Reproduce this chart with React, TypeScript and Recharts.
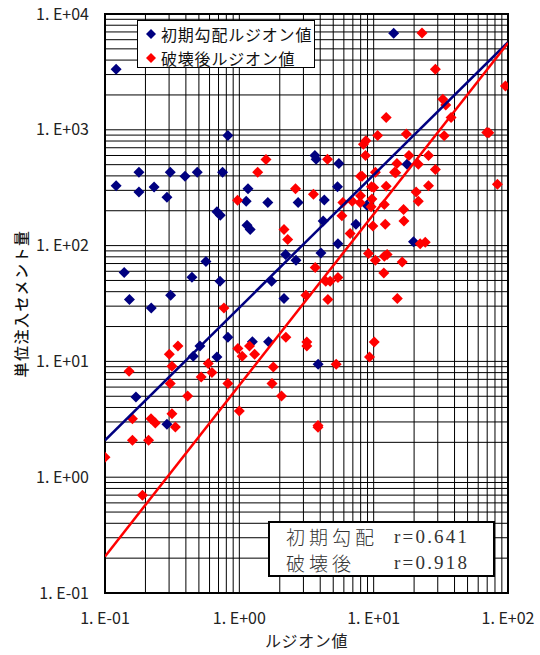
import React from 'react';
import {
  ScatterChart,
  Scatter,
  XAxis,
  YAxis,
  CartesianGrid,
  ReferenceArea,
  Legend,
} from 'recharts';

// ---- series values (ルジオン値, 単位注入セメント量) ----
const initialPoints: [number, number][] = [
  [0.121, 3327], [14.1, 6810], [0.822, 895], [0.179, 431], [0.306, 431], [0.394, 398],
  [0.486, 431], [0.75, 431], [0.121, 328], [0.179, 291], [0.232, 320], [0.289, 262],
  [1.16, 309], [1.125, 242], [1.63, 236], [2.74, 236], [3.65, 601], [3.73, 558],
  [5.51, 512], [17.7, 503], [5.38, 322], [4.29, 248], [8.89, 223], [0.681, 196],
  [0.721, 183], [1.14, 150], [1.205, 138], [2.21, 83.8], [2.64, 74.8], [0.564, 72.9],
  [0.139, 58.5], [0.444, 53.3], [0.718, 49.2], [1.74, 49.2], [0.152, 34.2], [0.308, 37.3],
  [2.15, 34.9], [0.221, 28.9], [0.822, 16.2], [1.25, 14.8], [1.65, 14.8], [0.509, 13.6],
  [0.454, 11.1], [0.681, 10.9], [0.17, 4.92], [4.21, 163], [7.38, 153], [5.42, 104],
  [4.05, 86.5], [19.8, 108], [3.86, 9.44], [0.289, 2.86],
];

const afterPoints: [number, number][] = [
  [22.9, 6850], [1.58, 555], [1.37, 431], [0.97, 247], [2.62, 309], [28.8, 3327],
  [95.7, 2387], [32.7, 1832], [34.4, 1635], [37.7, 1280], [12.4, 1280], [10.7, 895],
  [17.5, 918], [33.5, 887], [69.5, 950], [72, 942], [8.39, 752], [8.75, 803],
  [8.69, 601], [18.3, 601], [25.6, 601], [4.53, 558], [14.9, 512], [21.5, 503],
  [14.3, 431], [14.6, 425], [28.8, 455], [10.3, 431], [7.98, 398], [8.2, 398],
  [9.64, 322], [10.0, 318], [12.4, 326], [25.6, 328], [83.4, 338], [3.56, 278],
  [20.7, 291], [21.5, 241], [7.98, 269], [7.94, 234], [9.71, 252], [6.92, 242],
  [5.9, 236], [12.0, 226], [9.57, 216], [16.7, 205], [2.15, 138], [2.29, 113],
  [3.13, 37.3], [0.768, 28.9], [2.22, 16.2], [3.18, 14.7], [3.18, 13.6], [0.349, 13.6],
  [0.301, 11.5], [0.976, 12.9], [1.19, 13.6], [1.05, 11.1], [1.3, 11.5], [0.587, 9.57],
  [0.625, 8.0], [0.315, 9.07], [0.151, 8.21], [0.52, 7.33], [1.79, 8.95], [0.306, 6.43],
  [0.822, 6.43], [1.75, 6.43], [0.412, 5.02], [2.06, 5.02], [5.8, 181], [9.87, 148],
  [12.2, 153], [16.8, 163], [6.68, 127], [22.2, 104], [24.2, 107], [9.14, 85.5],
  [10.3, 74.8], [12.0, 81.0], [12.6, 83.8], [16.3, 72.3], [3.67, 64.7], [11.9, 58.1],
  [5.42, 53.0], [4.4, 49.2], [4.74, 49.2], [4.56, 34.2], [15.0, 34.9], [10.1, 14.7],
  [9.31, 10.9], [5.26, 9.44], [0.16, 3.2], [0.22, 3.2], [0.237, 2.94], [0.315, 3.54],
  [0.334, 2.71], [0.16, 2.08], [0.211, 2.08], [0.1, 1.49], [1.0, 3.73], [0.19, 0.7],
  [3.85, 2.8], [3.85, 2.7],
];

// regression line end points
const initialFit: [number, number][] = [[0.1, 2.08], [100, 5715]];
const afterFit: [number, number][] = [[0.1, 0.207], [100, 5620]];

// ---- names, colours, labels ----
const seriesNames = ['初期勾配ルジオン値', '破壊後ルジオン値'];
const seriesColors = ['#000080', '#ff0000'];
const correlationLabels = ['初期勾配', '破壊後'];
const correlationValues = ['r=0.641', 'r=0.918'];

const xMajorTicks = [0.1, 1, 10, 100];
const xTickLabels = ['1. E-01', '1. E+00', '1. E+01', '1. E+02'];
const yMajorTicks = [0.1, 1, 10, 100, 1000, 10000];
const yTickLabels = ['1. E-01', '1. E+00', '1. E+01', '1. E+02', '1. E+03', '1. E+04'];
const gridMultipliers = [1, 2, 3, 4, 5, 6, 7, 8, 9];
const xDecades = [0.1, 1, 10];
const yDecades = [0.1, 1, 10, 100, 1000];

const xGridValues = [...xDecades.flatMap((d) => gridMultipliers.map((m) => +(m * d).toPrecision(3))), 100];
const yGridValues = [...yDecades.flatMap((d) => gridMultipliers.map((m) => +(m * d).toPrecision(3))), 10000];

const toXY = (arr: [number, number][]) => arr.map(([x, y]) => ({ x, y }));
const initialData = toXY(initialPoints);
const afterData = toXY(afterPoints);
const initialFitData = toXY(initialFit);
const afterFitData = toXY(afterFit);

const labelFor = (ticks: number[], labels: string[]) => (v: number) => {
  const i = ticks.findIndex((t) => Math.abs(t - v) / t < 1e-6);
  return i >= 0 ? labels[i] : '';
};

const makeDiamond = (color: string) => (props: any) => {
  const { cx, cy } = props;
  if (cx == null || cy == null) return <g />;
  const r = 5.5;
  return <path d={`M${cx},${cy - r}L${cx + r},${cy}L${cx},${cy + r}L${cx - r},${cy}Z`} fill={color} />;
};

const NoShape = () => <g />;

const FONT = '"Noto Sans CJK JP", "Noto Sans", sans-serif';

const LegendBox = () => (
  <div
    style={{
      border: '1px solid #000',
      background: '#fff',
      width: 178,
      height: 48,
      boxSizing: 'border-box',
      paddingTop: 1,
      fontFamily: FONT,
    }}
  >
    {seriesNames.map((n, i) => (
      <div key={n} style={{ display: 'flex', alignItems: 'center', height: 24 }}>
        <svg width={12} height={12} style={{ marginLeft: 7, marginRight: 4 }}>
          <path d="M6,1L11,6L6,11L1,6Z" fill={seriesColors[i]} />
        </svg>
        <span style={{ fontSize: 16, letterSpacing: 0.8, color: '#111', lineHeight: '24px' }}>{n}</span>
      </div>
    ))}
  </div>
);

export default function App() {
  return (
    <div style={{ position: 'absolute', left: 0, top: 0, width: 540, height: 655, background: '#fff', fontFamily: FONT }}>
      <ScatterChart width={540} height={655} margin={{ top: 14, right: 32, bottom: 0, left: 0 }}>
        <CartesianGrid
          stroke="#000"
          strokeWidth={1}
          horizontalValues={yGridValues}
          verticalValues={xGridValues}
        />
        <XAxis
          dataKey="x"
          type="number"
          scale="log"
          domain={[0.1, 100]}
          allowDataOverflow
          ticks={xMajorTicks}
          interval={0}
          tickFormatter={labelFor(xMajorTicks, xTickLabels)}
          tickLine={false}
          axisLine={false}
          tickSize={0}
          tickMargin={20}
          height={62}
          tick={{ fontSize: 16, fill: '#222', fontFamily: FONT }}
          label={{ value: 'ルジオン値', position: 'insideBottom', offset: 8, fontSize: 16, fill: '#222', letterSpacing: 0.6, fontFamily: FONT }}
        />
        <YAxis
          dataKey="y"
          type="number"
          scale="log"
          domain={[0.1, 10000]}
          allowDataOverflow
          ticks={yMajorTicks}
          interval={0}
          tickFormatter={labelFor(yMajorTicks, yTickLabels)}
          tickLine={false}
          axisLine={false}
          tickSize={0}
          tickMargin={16}
          width={105}
          tick={{ fontSize: 16, fill: '#222', fontFamily: FONT }}
          label={{
            value: '単位注入セメント量',
            angle: -90,
            position: 'insideLeft',
            offset: 22,
            fontSize: 15,
            fill: '#111',
            fontFamily: FONT,
            style: { textAnchor: 'middle', letterSpacing: 1.5, fontWeight: 500 },
          }}
        />
        <ReferenceArea
          x1={0.1}
          x2={100}
          y1={0.1}
          y2={10000}
          fill="none"
          fillOpacity={0}
          stroke="#000"
          strokeWidth={2}
          ifOverflow="visible"
        />
        <Legend
          layout="vertical"
          align="center"
          verticalAlign="middle"
          wrapperStyle={{ position: 'absolute', left: 137, top: 20, width: 178, height: 48 }}
          content={() => <LegendBox />}
        />
        <Scatter
          name={seriesNames[0]}
          data={initialData}
          fill={seriesColors[0]}
          shape={makeDiamond(seriesColors[0])}
          isAnimationActive={false}
        />
        <Scatter
          name={seriesNames[1]}
          data={afterData}
          fill={seriesColors[1]}
          shape={makeDiamond(seriesColors[1])}
          isAnimationActive={false}
        />
        <Scatter
          data={initialFitData}
          line={{ stroke: seriesColors[0], strokeWidth: 2.5 }}
          shape={NoShape}
          legendType="none"
          isAnimationActive={false}
        />
        <Scatter
          data={afterFitData}
          line={{ stroke: seriesColors[1], strokeWidth: 2.5 }}
          shape={NoShape}
          legendType="none"
          isAnimationActive={false}
        />
      </ScatterChart>
      <div
        style={{
          position: 'absolute',
          left: 268,
          top: 521,
          width: 227,
          height: 56,
          boxSizing: 'border-box',
          border: '2px solid #000',
          background: '#fff',
          paddingTop: 0,
          color: '#333',
        }}
      >
        {correlationLabels.map((l, i) => (
          <div key={l} style={{ display: 'flex', height: 26, lineHeight: '26px', marginTop: i === 0 ? 1 : 0 }}>
            <span style={{ width: 108, marginLeft: 16, fontSize: 19, letterSpacing: 4, fontFamily: FONT, fontWeight: 300 }}>{l}</span>
            <span style={{ fontSize: 19, letterSpacing: 2.2, fontFamily: '"Liberation Serif", "DejaVu Serif", serif' }}>
              {correlationValues[i]}
            </span>
          </div>
        ))}
      </div>
    </div>
  );
}
